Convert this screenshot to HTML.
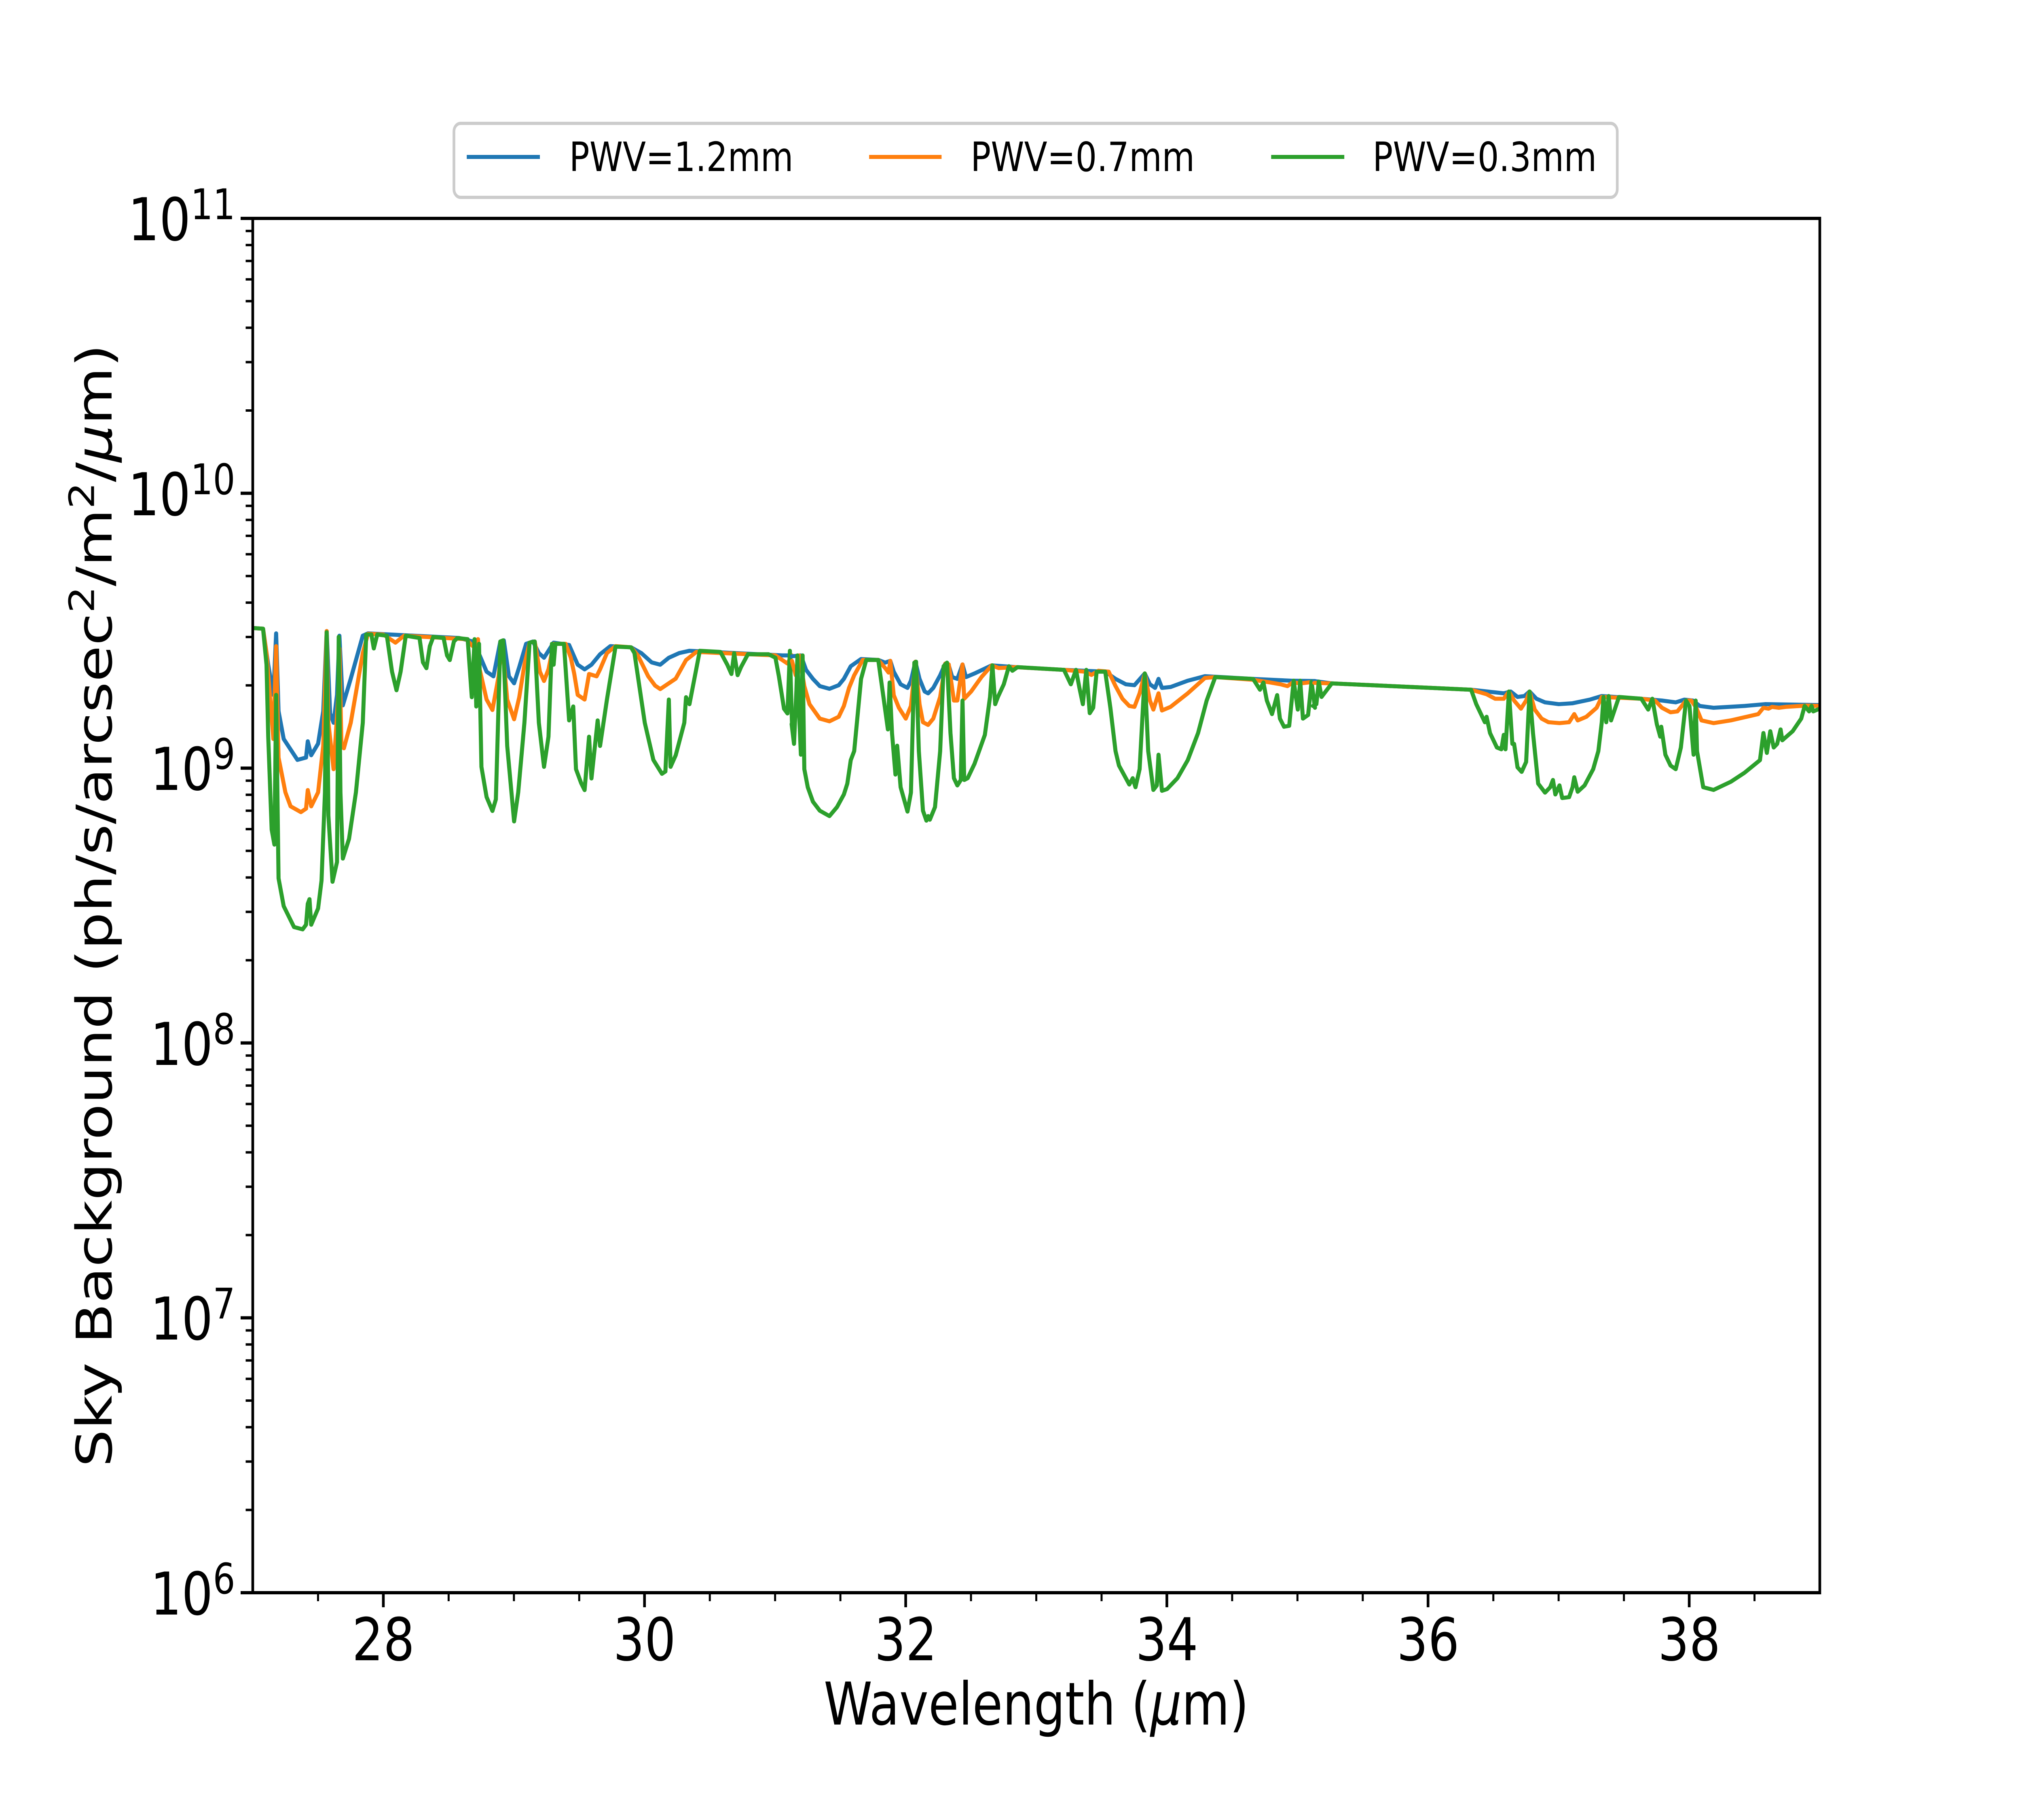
<!DOCTYPE html>
<html><head><meta charset="utf-8"><style>
html,body{margin:0;padding:0;background:#fff;width:100%;height:100%;overflow:hidden}
svg{display:block;position:fixed;left:0;top:0;width:100vw;height:100vh}
text{font-family:"DejaVu Sans","Liberation Sans",sans-serif;fill:#000}
</style></head><body>
<svg xmlns="http://www.w3.org/2000/svg" viewBox="0 0 6000 4500" preserveAspectRatio="none" overflow="hidden">
<rect width="6000" height="4500" fill="#fff"/>
<defs><clipPath id="ax"><rect x="750" y="540" width="4650" height="3398"/></clipPath></defs>

<g clip-path="url(#ax)" fill="none" stroke-linejoin="round" stroke-linecap="round">
<g transform="translate(750,1500) scale(1.0204,0.574)">
<polyline vector-effect="non-scaling-stroke" stroke="#1f77b4" stroke-width="10" points="0,92 30,95 45,250 60,380 68,115 75,450 90,570 130,660 155,650 160,580 170,640 190,590 205,450 215,105 225,460 235,500 245,380 252,125 262,425 285,310 320,125 335,115 600,135 640,150 660,210 680,280 700,300 720,150 730,145 745,300 760,330 775,260 795,160 815,150 832,200 847,220 860,190 875,155 920,165 945,250 965,270 985,250 1010,205 1040,170 1100,175 1130,200 1160,240 1185,250 1210,220 1240,200 1270,190 1540,210 1568,210"/>
<polyline vector-effect="non-scaling-stroke" stroke="#ff7f0e" stroke-width="10" points="0,92 30,95 40,200 60,570 68,170 75,650 95,800 110,860 140,885 155,870 160,790 170,860 190,800 205,600 215,105 220,500 235,700 248,400 252,180 258,600 265,610 285,500 320,200 335,117 380,120 415,155 440,125 620,140 640,170 655,140 660,270 680,400 697,445 715,300 725,150 740,400 760,485 775,390 790,250 805,155 820,150 835,280 847,320 860,270 875,160 910,160 925,220 935,290 945,380 965,400 978,290 1000,300 1010,270 1030,200 1055,170 1100,175 1120,210 1150,300 1170,340 1185,355 1210,330 1230,310 1260,230 1290,195 1520,210 1555,245 1568,210"/>
<polyline vector-effect="non-scaling-stroke" stroke="#2ca02c" stroke-width="10" points="0,92 30,95 40,250 45,560 55,960 63,1025 68,380 75,1170 90,1290 100,1320 120,1380 145,1390 155,1370 160,1280 165,1260 170,1370 190,1300 200,1180 210,800 215,110 220,900 232,1185 245,1100 250,130 255,800 262,1085 280,1000 300,800 320,500 330,120 345,120 352,180 362,120 390,125 405,280 418,360 430,280 445,125 485,135 495,240 505,265 515,170 525,130 555,135 565,210 573,230 585,150 595,135 625,140 637,390 645,140 650,430 658,160 665,690 680,820 697,880 707,830 720,150 728,145 740,600 760,925 772,800 790,500 805,155 820,150 832,500 847,690 860,560 870,160 875,250 880,160 905,160 920,490 932,430 940,700 955,760 965,790 978,560 985,740 1003,490 1010,600 1030,400 1055,172 1100,175 1110,200 1140,500 1165,660 1190,720 1200,710 1210,400 1215,690 1230,640 1255,500 1260,390 1270,420 1300,190 1360,195 1380,250 1392,290 1400,200 1410,295 1420,260 1440,205 1500,205 1520,220 1530,300 1545,440 1555,460 1562,190 1568,500"/>
</g>
<g transform="translate(2300,1500) scale(1.0204,0.4464)">
<polyline vector-effect="non-scaling-stroke" stroke="#1f77b4" stroke-width="10" points="49,275 75,270 90,350 110,400 130,440 158,455 185,435 200,400 220,330 250,290 300,295 320,310 335,300 345,360 365,430 385,450 395,410 408,305 420,400 435,470 445,480 460,450 480,380 495,315 505,325 515,390 530,400 545,320 555,390 580,370 630,325 700,335 840,350 960,360 990,400 1020,430 1045,435 1075,370 1090,430 1105,450 1115,400 1125,450 1150,445 1200,410 1250,385 1390,400 1500,410 1570,412"/>
<polyline vector-effect="non-scaling-stroke" stroke="#ff7f0e" stroke-width="10" points="49,300 60,380 70,270 85,440 100,540 130,620 158,635 185,610 200,550 215,450 230,380 255,295 300,295 320,340 330,365 335,300 345,490 360,560 380,620 395,550 408,305 420,540 430,640 445,655 460,620 480,500 495,315 505,320 520,520 530,520 545,320 550,510 570,470 600,390 630,325 650,340 700,335 840,350 900,360 920,378 940,355 970,360 990,440 1010,510 1030,550 1045,555 1060,480 1075,370 1090,520 1100,570 1115,480 1125,575 1150,555 1200,480 1250,395 1280,390 1390,405 1440,420 1470,430 1490,440 1505,420 1530,425 1570,415"/>
<polyline vector-effect="non-scaling-stroke" stroke="#2ca02c" stroke-width="10" points="48,650 55,760 62,460 65,270 70,600 75,820 80,270 85,900 95,1000 110,1080 130,1130 158,1160 180,1110 200,1040 210,980 220,850 230,800 250,400 265,295 300,295 315,500 328,680 333,420 340,700 350,930 355,770 365,1000 385,1135 395,1030 405,310 410,305 418,800 430,1130 440,1185 445,1160 450,1180 465,1110 480,800 490,330 500,310 510,700 520,950 530,990 540,960 545,520 550,960 560,950 580,870 610,710 625,500 632,325 640,540 648,500 665,430 680,330 690,355 705,335 840,350 860,430 875,350 885,450 895,540 905,350 915,590 925,560 935,360 960,360 975,560 990,800 1000,880 1020,950 1030,985 1040,950 1048,1000 1060,900 1075,370 1085,800 1100,1015 1110,990 1115,820 1125,1020 1140,1010 1170,950 1200,850 1230,700 1255,520 1280,390 1390,400 1410,460 1420,420 1430,520 1445,595 1460,490 1468,620 1480,665 1495,660 1508,410 1520,570 1527,410 1535,620 1550,600 1560,415 1570,560"/>
</g>
<g transform="translate(3850,1500) scale(1.0204,0.4464)">
<polyline vector-effect="non-scaling-stroke" stroke="#1f77b4" stroke-width="10" points="49,412 100,425 505,460 600,480 620,470 640,500 660,495 675,470 695,510 720,530 760,540 800,535 850,515 885,495 1000,510 1060,520 1100,530 1125,515 1150,520 1170,550 1210,560 1300,550 1360,540 1525,545"/>
<polyline vector-effect="non-scaling-stroke" stroke="#ff7f0e" stroke-width="10" points="49,422 100,425 505,460 550,485 575,510 600,510 615,470 630,520 650,565 665,520 675,470 690,570 710,620 730,640 762,645 790,640 805,595 815,630 840,610 870,560 885,500 1000,510 1040,520 1060,560 1085,585 1105,580 1130,520 1145,520 1160,560 1175,630 1210,645 1260,630 1340,595 1355,560 1370,565 1380,555 1400,560 1420,555 1480,548 1525,550"/>
<polyline vector-effect="non-scaling-stroke" stroke="#2ca02c" stroke-width="10" points="45,550 55,540 62,415 70,500 100,425 505,460 520,540 545,640 550,610 560,700 580,780 593,790 600,710 605,790 615,470 625,760 630,760 640,890 652,915 665,860 675,470 685,700 700,980 720,1030 735,1000 743,960 750,1040 762,990 770,1060 790,1055 800,1000 805,945 815,1025 835,990 860,900 875,800 885,640 890,500 898,640 905,495 912,630 935,500 1000,510 1020,570 1032,510 1045,650 1055,720 1058,665 1070,820 1085,880 1100,900 1115,780 1130,520 1140,550 1152,820 1158,520 1162,800 1180,1000 1210,1015 1260,970 1300,920 1345,850 1355,700 1365,810 1375,690 1385,780 1395,760 1405,680 1410,740 1440,690 1465,620 1475,550 1488,580 1495,550 1500,580 1525,560"/>
</g>
</g>

<rect x="750" y="540" width="4650" height="3398" fill="none" stroke="#000" stroke-width="8"/>

<g stroke="#000" stroke-width="8" fill="none">
<path d="M1137.5,3938v36M1912.5,3938v36M2687.5,3938v36M3462.5,3938v36M4237.5,3938v36M5012.5,3938v36"/>
<path stroke-width="6" d="M943.75,3938v21M1331.25,3938v21M1525,3938v21M1718.75,3938v21M2106.25,3938v21M2300,3938v21M2493.75,3938v21M2881.25,3938v21M3075,3938v21M3268.75,3938v21M3656.25,3938v21M3850,3938v21M4043.75,3938v21M4431.25,3938v21M4625,3938v21M4818.75,3938v21M5206.25,3938v21"/>
<path d="M750,540h-36M750,1219.6h-36M750,1899.2h-36M750,2578.8h-36M750,3258.4h-36M750,3938h-36"/>
<path stroke-width="6" d="M750,3733.4h-21M750,3613.8h-21M750,3528.8h-21M750,3463h-21M750,3409.2h-21M750,3363.7h-21M750,3324.3h-21M750,3289.5h-21
M750,3053.8h-21M750,2934.2h-21M750,2849.2h-21M750,2783.4h-21M750,2729.6h-21M750,2684.1h-21M750,2644.7h-21M750,2609.9h-21
M750,2374.2h-21M750,2254.6h-21M750,2169.6h-21M750,2103.8h-21M750,2050h-21M750,2004.5h-21M750,1965.1h-21M750,1930.3h-21
M750,1694.6h-21M750,1575h-21M750,1490h-21M750,1424.2h-21M750,1370.4h-21M750,1324.9h-21M750,1285.5h-21M750,1250.7h-21
M750,1015h-21M750,895.4h-21M750,810.4h-21M750,744.6h-21M750,690.8h-21M750,645.3h-21M750,605.9h-21M750,571.1h-21"/>
</g>

<g font-size="146" text-anchor="middle">
<text x="1137.5" y="4105">28</text>
<text x="1912.5" y="4105">30</text>
<text x="2687.5" y="4105">32</text>
<text x="3462.5" y="4105">34</text>
<text x="4237.5" y="4105">36</text>
<text x="5012.5" y="4105">38</text>
</g>
<g font-size="146" text-anchor="end">
<text x="698" y="594">10<tspan font-size="104" dy="-52">11</tspan></text>
<text x="698" y="1274">10<tspan font-size="104" dy="-52">10</tspan></text>
<text x="698" y="1953">10<tspan font-size="104" dy="-52">9</tspan></text>
<text x="698" y="2633">10<tspan font-size="104" dy="-52">8</tspan></text>
<text x="698" y="3312">10<tspan font-size="104" dy="-52">7</tspan></text>
<text x="698" y="3992">10<tspan font-size="104" dy="-52">6</tspan></text>
</g>

<text x="3075" y="4264" font-size="146" text-anchor="middle">Wavelength (<tspan font-style="italic">μ</tspan>m)</text>
<text transform="translate(331,2239) rotate(-90)" font-size="146" text-anchor="middle">Sky Background (ph/s/arcsec<tspan font-size="104" dy="-52">2</tspan><tspan dy="52">/m</tspan><tspan font-size="104" dy="-52">2</tspan><tspan dy="52">/</tspan><tspan font-style="italic">μ</tspan>m)</text>

<rect x="1347" y="305" width="3452" height="183" rx="20" ry="20" fill="#fff" stroke="#cccccc" stroke-width="8"/>
<g stroke-width="10">
<line x1="1385" y1="388" x2="1602" y2="388" stroke="#1f77b4"/>
<line x1="2579" y1="388" x2="2794" y2="388" stroke="#ff7f0e"/>
<line x1="3772" y1="388" x2="3989" y2="388" stroke="#2ca02c"/>
</g>
<g font-size="100">
<text x="1689" y="423">PWV=1.2mm</text>
<text x="2880" y="423">PWV=0.7mm</text>
<text x="4073" y="423">PWV=0.3mm</text>
</g>
</svg>
</body></html>
